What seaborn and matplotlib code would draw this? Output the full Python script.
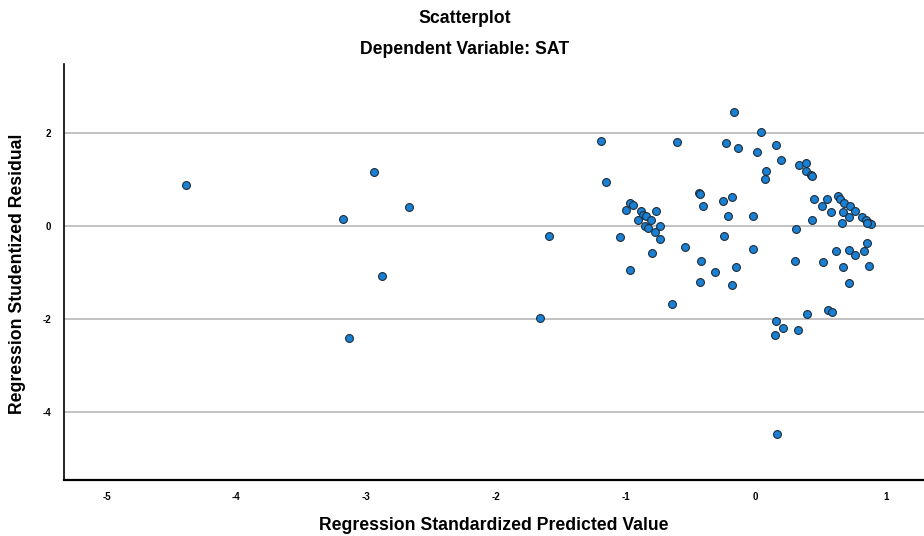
import numpy as np
import pandas as pd
import matplotlib
matplotlib.use("Agg")
import matplotlib.pyplot as plt
import seaborn as sns

# values
predicted = [0.447, 0.552, 0.514, 0.576, 0.434, 0.308, 0.634, 0.652, 0.680, 0.724,
             0.673, 0.765, 0.719, 0.668, 0.822, 0.847, 0.873, 0.884, 0.860,
             -0.167, 0.044, -1.19, -0.61, -0.231, -0.136, 0.013, 0.157, 0.193, 0.331,
             0.388, 0.385, 0.429, 0.437, 0.082, 0.069, -1.153, -0.437, -0.43, -0.408,
             -0.249, -0.183, -0.21, -0.021,
             -1.0, -0.971, -0.945, -0.88, -0.868, -0.765, -0.906, -0.842, -0.803,
             -0.855, -0.830, -0.74, -0.778, -0.734, -1.048,
             -0.80, -0.971, -0.542, -0.247, -0.418, -0.313, -0.152, -0.429, -0.185,
             -0.023, -0.642, 0.306, 0.519, 0.621, 0.717, 0.763, 0.830, 0.860, 0.876,
             0.670, 0.719, 0.56, 0.588, 0.398, 0.159, 0.211, 0.329, 0.152, 0.16,
             -4.39, -2.94, -2.67, -3.18, -2.88, -3.13, -1.59, -1.66]
residual = [0.58, 0.58, 0.43, 0.29, 0.13, -0.06, 0.63, 0.57, 0.50, 0.43,
            0.29, 0.32, 0.19, 0.06, 0.19, 0.13, 0.07, 0.04, 0.05,
            2.45, 2.01, 1.83, 1.81, 1.77, 1.67, 1.58, 1.73, 1.41, 1.31,
            1.34, 1.18, 1.10, 1.08, 1.18, 1.00, 0.95, 0.70, 0.68, 0.42,
            0.53, 0.61, 0.21, 0.22,
            0.34, 0.49, 0.45, 0.31, 0.24, 0.31, 0.13, 0.20, 0.13,
            0.0, -0.05, -0.01, -0.14, -0.28, -0.23,
            -0.59, -0.94, -0.46, -0.21, -0.75, -1.0, -0.88, -1.20, -1.28,
            -0.49, -1.67, -0.75, -0.77, -0.54, -0.51, -0.62, -0.54, -0.37, -0.87,
            -0.88, -1.22, -1.81, -1.86, -1.90, -2.05, -2.19, -2.23, -2.35, -4.47,
            0.88, 1.15, 0.40, 0.14, -1.08, -2.40, -0.22, -1.98]

x_ticks = [-5, -4, -3, -2, -1, 0, 1]
y_ticks = [2, 0, -2, -4]

df = pd.DataFrame({"pred": predicted, "resid": residual})

sns.set_style("white")
plt.rcParams['font.family'] = ['Liberation Sans', 'DejaVu Sans']
plt.rcParams['axes.unicode_minus'] = False
plt.rcParams['text.color'] = 'black'
plt.rcParams['axes.labelcolor'] = 'black'
plt.rcParams['xtick.color'] = 'black'
plt.rcParams['ytick.color'] = 'black'

fig = plt.figure(figsize=(9.24, 5.36), dpi=100)
ax = fig.add_axes([0.069, 0.1045, 0.94, 0.7765])

for yv in y_ticks:
    ax.axhline(yv, color='#bdbdbd', lw=1.3, zorder=0)

sns.scatterplot(data=df, x="pred", y="resid", ax=ax, color='#1a80d4',
                edgecolor='#1f2d3a', linewidth=0.8, s=32, zorder=3)

ax.set_xlim(-5.33, 1.36)
ax.set_ylim(-5.46, 3.48)
ax.set_xticks(x_ticks)
ax.set_yticks(y_ticks)
ax.tick_params(length=0, labelsize=7, pad=9)
for lab in ax.get_xticklabels() + ax.get_yticklabels():
    lab.set_fontweight('bold')

for side in ['top', 'right']:
    ax.spines[side].set_visible(False)
ax.spines['left'].set_color('black')
ax.spines['left'].set_linewidth(1.2)
ax.spines['bottom'].set_color('black')
ax.spines['bottom'].set_linewidth(1.6)

ax.set_xlabel("Regression Standardized Predicted Value", fontsize=12.7,
              fontweight='bold')
ax.set_ylabel("Regression Studentized Residual", fontsize=12.7,
              fontweight='bold')
ax.xaxis.set_label_coords(0.495, -0.088)
ax.yaxis.set_label_coords(-0.044, 0.495)

fig.text(0.503, 0.966, "Scatterplot", ha='center', va='center',
         fontsize=12.7, fontweight='bold')
fig.text(0.503, 0.907, "Dependent Variable: SAT", ha='center', va='center',
         fontsize=12.7, fontweight='bold')

fig.savefig("out.png", dpi=100)
